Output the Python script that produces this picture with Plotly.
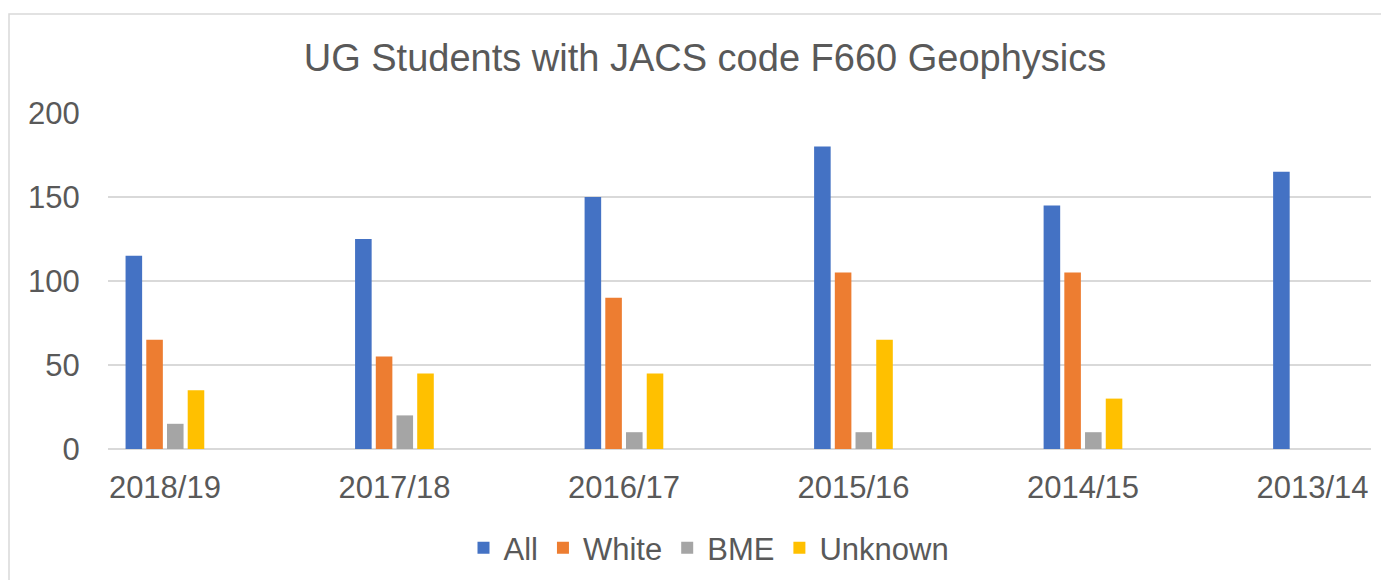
import plotly.graph_objects as go

years = ["2018/19", "2017/18", "2016/17", "2015/16", "2014/15", "2013/14"]
all_students = [115, 125, 150, 180, 145, 165]
white = [65, 55, 90, 105, 105, None]
bme = [15, 20, 10, 10, 10, None]
unknown = [35, 45, 45, 65, 30, None]

series = [
    ("All", all_students, "#4472C4"),
    ("White", white, "#ED7D31"),
    ("BME", bme, "#A5A5A5"),
    ("Unknown", unknown, "#FFC000"),
]

# page body adds an 8px offset, so the figure is laid out 8px smaller
OFF = 8
W, H = 1389 - OFF, 580 - OFF
ml, mr, mt, mb = 108 - OFF, 18, 113 - OFF, 131
pw, ph = W - ml - mr, H - mt - mb
bottom_px = H - mb

fig = go.Figure()
for name, vals, col in series:
    fig.add_trace(go.Bar(x=years, y=vals, name=name, marker_color=col,
                         marker_line_width=0))

txt = "#595959"
font = "Liberation Sans, Arial, sans-serif"

fig.update_layout(
    width=W, height=H,
    margin=dict(l=ml, r=mr, t=mt, b=mb, pad=0, autoexpand=False),
    paper_bgcolor="white", plot_bgcolor="white",
    font=dict(family=font, color=txt, size=31),
    barmode="group", bargap=0.639, bargroupgap=0.2,
    title=dict(text="UG Students with JACS code F660 Geophysics",
               x=(705 - OFF) / W, xref="container", xanchor="center",
               y=1 - (58 - OFF) / H, yref="container", yanchor="middle",
               font=dict(size=38, color=txt, family=font)),
    legend=dict(orientation="h", x=(709 - OFF - ml) / pw, xanchor="center",
                y=(bottom_px - (548 - OFF)) / ph, yanchor="middle",
                font=dict(size=31, color=txt), itemwidth=30,
                traceorder="normal"),
    showlegend=True,
)
fig.update_xaxes(type="category", range=[-0.248, 5.255], showgrid=False,
                 showline=False, zeroline=False, ticks="outside", ticklen=11,
                 tickcolor="rgba(0,0,0,0)", tickfont=dict(size=31, color=txt),
                 automargin=False)
fig.update_yaxes(range=[0, 200], dtick=50, showgrid=True, gridcolor="#D9D9D9",
                 gridwidth=1.5, zeroline=True, zerolinecolor="#D9D9D9",
                 zerolinewidth=1.5, showline=False, ticks="outside", ticklen=21,
                 tickcolor="rgba(0,0,0,0)", tickfont=dict(size=31, color=txt),
                 automargin=False)

# chart-area border
fig.add_shape(type="rect", xref="paper", yref="paper",
              x0=(9 - OFF - ml) / pw, x1=(W + 10 - ml) / pw,
              y0=(bottom_px - (H + 10)) / ph, y1=(bottom_px - (14 - OFF)) / ph,
              line=dict(color="#D9D9D9", width=1.5), fillcolor="rgba(0,0,0,0)",
              layer="below")

fig.write_html("out.html")
